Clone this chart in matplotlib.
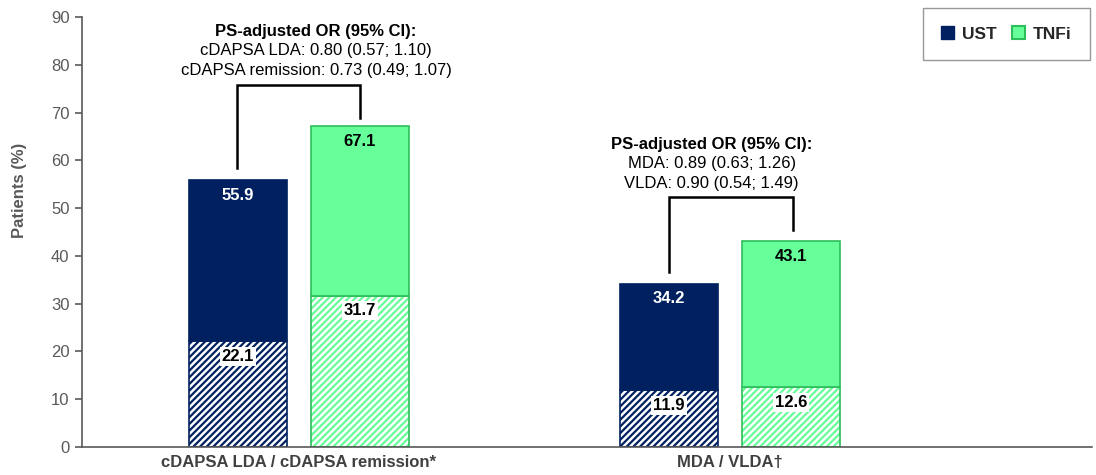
import matplotlib
matplotlib.use("Agg")
import matplotlib.pyplot as plt
from matplotlib.patches import Patch

plt.rcParams['font.family'] = ['Liberation Sans', 'DejaVu Sans']
plt.rcParams['hatch.linewidth'] = 1.6

categories = ["cDAPSA LDA / cDAPSA remission*", "MDA / VLDA\u2020"]
series = ["UST", "TNFi"]
ust_total = [55.9, 34.2]
ust_lower = [22.1, 11.9]
tnfi_total = [67.1, 43.1]
tnfi_lower = [31.7, 12.6]
or_texts = [
    ["cDAPSA LDA: 0.80 (0.57; 1.10)", "cDAPSA remission: 0.73 (0.49; 1.07)"],
    ["MDA: 0.89 (0.63; 1.26)", "VLDA: 0.90 (0.54; 1.49)"],
]
yticks = list(range(0, 91, 10))

navy = "#002060"
green = "#66FF99"
green_edge = "#2DBE5A"
grey = "#595959"

fig = plt.figure(figsize=(10.96, 4.75), dpi=100)
ax = fig.add_axes([82/1096, 1-447/475, (1092-82)/1096, (447-17)/475])

x = [0, 1]
w = 0.227
off = 0.1415
fs = 12
for i in x:
    xu = i - off
    xt = i + off
    # UST
    ax.bar(xu, ust_lower[i], w, color="white", edgecolor=navy, hatch="/////", linewidth=0)
    ax.bar(xu, ust_lower[i], w, color="none", edgecolor=navy, linewidth=1.2)
    ax.bar(xu, ust_total[i] - ust_lower[i], w, bottom=ust_lower[i], color=navy, edgecolor=navy, linewidth=1.2)
    # TNFi
    ax.bar(xt, tnfi_lower[i], w, color="white", edgecolor=green, hatch="/////", linewidth=0)
    ax.bar(xt, tnfi_lower[i], w, color="none", edgecolor=green_edge, linewidth=1.2)
    ax.bar(xt, tnfi_total[i] - tnfi_lower[i], w, bottom=tnfi_lower[i], color=green, edgecolor=green_edge, linewidth=1.2)
    # labels
    ax.text(xu, ust_total[i] - 3.2, f"{ust_total[i]:.1f}", ha="center", va="center",
            color="white", fontsize=fs, fontweight="bold")
    ax.text(xt, tnfi_total[i] - 3.2, f"{tnfi_total[i]:.1f}", ha="center", va="center",
            color="black", fontsize=fs, fontweight="bold")
    ax.text(xu, ust_lower[i] - 3.2, f"{ust_lower[i]:.1f}", ha="center", va="center",
            color="black", fontsize=fs, fontweight="bold",
            bbox=dict(facecolor="white", edgecolor="none", pad=1.5))
    ax.text(xt, tnfi_lower[i] - 3.2, f"{tnfi_lower[i]:.1f}", ha="center", va="center",
            color="black", fontsize=fs, fontweight="bold",
            bbox=dict(facecolor="white", edgecolor="none", pad=1.5))

# brackets
brackets = [
    dict(xl=-0.144, xr=0.141, top=75.7, yl=58.4, yr=68.8, tx=0.04, ty=[87.0, 83.0, 78.8]),
    dict(xl=0.859, xr=1.146, top=52.3, yl=36.6, yr=45.4, tx=0.958, ty=[63.3, 59.3, 55.2]),
]
for b, txts in zip(brackets, or_texts):
    ax.plot([b['xl'], b['xl'], b['xr'], b['xr']], [b['yl'], b['top'], b['top'], b['yr']],
            color="black", linewidth=1.8, solid_joinstyle="miter")
    ax.text(b['tx'], b['ty'][0], "PS-adjusted OR (95% CI):", ha="center", va="center",
            fontsize=fs, fontweight="bold", color="black")
    ax.text(b['tx'], b['ty'][1], txts[0], ha="center", va="center", fontsize=fs, color="black")
    ax.text(b['tx'], b['ty'][2], txts[1], ha="center", va="center", fontsize=fs, color="black")

ax.set_xlim(-0.503, 1.84)
ax.set_ylim(0, 90)
ax.set_yticks(yticks)
ax.set_xticks(x)
ax.set_xticklabels(categories, fontsize=12, fontweight="bold", color="#404040")
ax.tick_params(axis="x", length=0, pad=6)
ax.tick_params(axis="y", labelsize=12, colors=grey, length=5, width=1.2, direction="out", pad=4)
for lab in ax.get_yticklabels():
    lab.set_color(grey)
ax.spines['top'].set_visible(False)
ax.spines['right'].set_visible(False)
ax.spines['left'].set_color(grey)
ax.spines['bottom'].set_color(grey)
ax.spines['left'].set_linewidth(1.2)
ax.spines['bottom'].set_linewidth(1.2)
ax.set_ylabel("Patients (%)", fontsize=12, fontweight="bold", color=grey)
ax.yaxis.set_label_coords((27 - 82) / 1010, (447 - 190) / 430)

handles = [Patch(facecolor=navy, edgecolor=navy), Patch(facecolor=green, edgecolor=green_edge, linewidth=1.5)]
leg = fig.legend(handles, series, loc="upper right", bbox_to_anchor=(1090/1096, 1-8/475), ncol=2,
                 frameon=True, fancybox=False, edgecolor="#7F7F7F", handlelength=0.75, handleheight=0.75,
                 handletextpad=0.45, columnspacing=0.9, borderpad=1.05, borderaxespad=0,
                 prop=dict(size=12.5, weight="bold"), labelcolor="#262626")
leg.get_frame().set_linewidth(1.0)

fig.savefig("out.png", dpi=100)
